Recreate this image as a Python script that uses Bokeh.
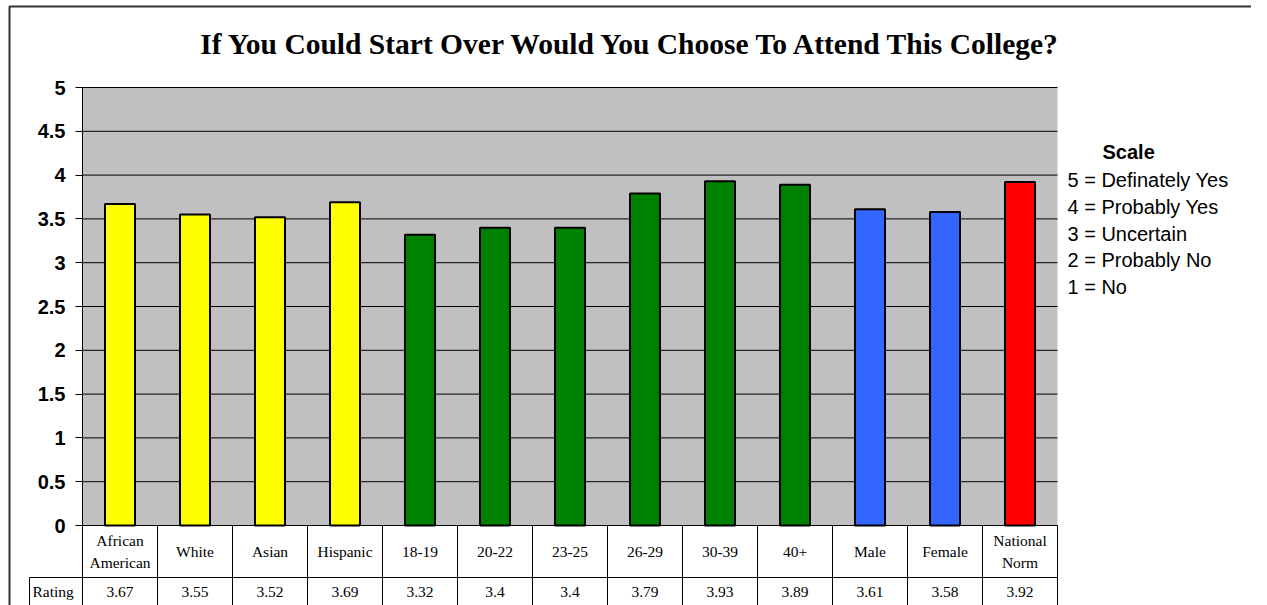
from bokeh.plotting import figure
from bokeh.models import Range1d, LinearAxis, FixedTicker
from bokeh.embed import file_html
from bokeh.resources import INLINE
from bokeh.core.properties import value

# ---------------- data ----------------
title_text = "If You Could Start Over Would You Choose To Attend This College?"
categories = ["African American", "White", "Asian", "Hispanic", "18-19", "20-22",
              "23-25", "26-29", "30-39", "40+", "Male", "Female", "National Norm"]
ratings = [3.67, 3.55, 3.52, 3.69, 3.32, 3.4, 3.4, 3.79, 3.93, 3.89, 3.61, 3.58, 3.92]
groups = ["eth"] * 4 + ["age"] * 6 + ["gender"] * 2 + ["norm"]
group_colors = {"eth": "#FFFF00", "age": "#008000", "gender": "#3366FF", "norm": "#FF0000"}
y_ticks = [0, 0.5, 1, 1.5, 2, 2.5, 3, 3.5, 4, 4.5, 5]
row_label = "Rating"
legend_title = "Scale"
legend_lines = ["5 = Definately Yes", "4 = Probably Yes", "3 = Uncertain",
                "2 = Probably No", "1 = No"]

# ---------------- layout (pixels in the picture) ----------------
W, H = 1251, 605
PAGE_X0, PAGE_Y0 = 0, 0
AX_X = 82          # x of value-axis (left of plot area)
CAT_PX = 75        # px per category
Y0_PX = 525        # y of value 0
UNIT_PX = 87.6     # px per rating unit


def ux(px):
    return (px - AX_X) / CAT_PX


def vy(py):
    return (Y0_PX - py) / UNIT_PX


n = len(categories)
xs = [i + 0.5 for i in range(n)]

p = figure(width=W, height=H, output_backend="svg", toolbar_location=None,
           x_range=Range1d(ux(PAGE_X0), ux(PAGE_X0 + W)),
           y_range=Range1d(vy(PAGE_Y0 + H), vy(PAGE_Y0)),
           x_axis_type=None, y_axis_type=None,
           min_border_left=0, min_border_right=0, min_border_top=0, min_border_bottom=0)
p.outline_line_color = None
p.background_fill_color = "white"
p.border_fill_color = "white"
p.xgrid.visible = False
p.ygrid.visible = False

# plot area background
p.quad(left=[0], right=[n], bottom=[y_ticks[0]], top=[y_ticks[-1]],
       fill_color="#C0C0C0", line_color=None)
# gridlines
p.segment(x0=[0] * len(y_ticks), x1=[n] * len(y_ticks), y0=y_ticks, y1=y_ticks,
          line_color="#000000", line_width=1)

# bars
p.vbar(x=xs, top=ratings, width=0.4, bottom=0,
       fill_color=[group_colors[g] for g in groups], line_color="black", line_width=2)

# value axis
ax = LinearAxis(fixed_location=0, bounds=(y_ticks[0], y_ticks[-1]),
                ticker=FixedTicker(ticks=y_ticks))
ax.major_label_overrides = {t: f"{t:g}" for t in y_ticks}
ax.minor_tick_line_color = None
ax.major_tick_in = 0
ax.major_tick_out = 7
ax.major_tick_line_color = "black"
ax.axis_line_color = "black"
ax.axis_line_width = 1
ax.major_label_standoff = 10
ax.major_label_text_font = "Liberation Sans"
ax.major_label_text_font_style = "bold"
ax.major_label_text_font_size = "20px"
ax.major_label_text_color = "black"
p.add_layout(ax, "left")

# data table
y_bottom = vy(PAGE_Y0 + H + 10)
row_split = vy(577)
p.segment(x0=list(range(n + 1)), x1=list(range(n + 1)),
          y0=[0] * (n + 1), y1=[y_bottom] * (n + 1), line_color="black", line_width=1)
p.segment(x0=[ux(29), ux(29)], x1=[n, ux(29)], y0=[row_split, row_split],
          y1=[row_split, y_bottom], line_color="black", line_width=1)

p.text(x=xs, y=[vy(551)] * n, text=[c.replace(" ", "\n") for c in categories],
       text_align="center", text_baseline="middle", text_font=value("Liberation Serif"),
       text_font_size="15.5px", text_color="black", text_line_height=1.35)
p.text(x=xs, y=[vy(591)] * n, text=[f"{r:g}" for r in ratings],
       text_align="center", text_baseline="middle", text_font=value("Liberation Serif"),
       text_font_size="15.5px", text_color="black")
p.text(x=[ux(32)], y=[vy(591)], text=[row_label], text_align="left",
       text_baseline="middle", text_font=value("Liberation Serif"),
       text_font_size="15.5px", text_color="black")

# title
p.text(x=[ux(631.5)], y=[vy(43)], text=[title_text], text_align="center",
       text_baseline="alphabetic", text_font=value("Liberation Serif"),
       text_font_style="bold", text_font_size="29.5px", text_color="black")

# scale legend
p.text(x=[ux(1102)], y=[vy(151)], text=[legend_title], text_align="left",
       text_baseline="alphabetic", text_font=value("Liberation Sans"),
       text_font_style="bold", text_font_size="20px", text_color="black")
p.text(x=[ux(1067)] * len(legend_lines),
       y=[vy(179.3 + 26.85 * i) for i in range(len(legend_lines))],
       text=legend_lines, text_align="left", text_baseline="alphabetic",
       text_font=value("Liberation Sans"), text_font_size="20px", text_color="black")

# chart border (left and top)
p.line(x=[ux(9), ux(9), ux(PAGE_X0 + W + 5)], y=[y_bottom, vy(6), vy(6)],
       line_color="#333333", line_width=2)

open("out.html", "w").write(file_html(p, INLINE))
